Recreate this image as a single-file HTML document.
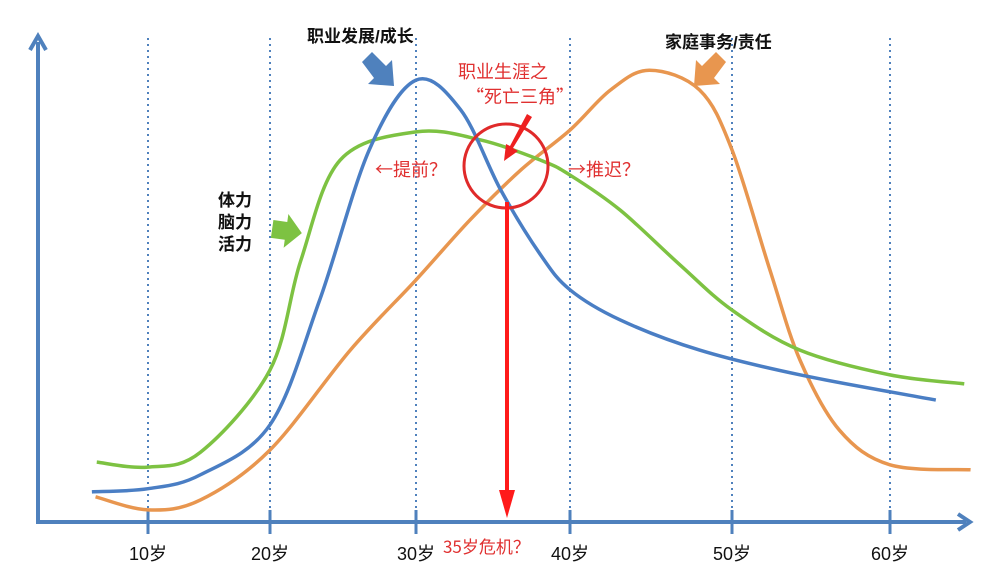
<!DOCTYPE html>
<html><head><meta charset="utf-8"><style>
body{margin:0;background:#fff;}
svg{display:block;font-family:"Liberation Sans","Noto Sans CJK SC",sans-serif;}
.cjk{font-family:"Noto Sans CJK SC","WenQuanYi Zen Hei",sans-serif;}
</style></head><body>
<svg width="989" height="582" viewBox="0 0 989 582" id="chart">
<g id="grid"></g>
<line x1="38" y1="522" x2="38" y2="42" stroke="#4f81bd" stroke-width="4"/>
<path d="M30,50 L38,36 L46,50" fill="none" stroke="#4f81bd" stroke-width="4"/>
<line x1="36" y1="522" x2="966" y2="522" stroke="#4f81bd" stroke-width="4"/>
<path d="M958,514 L970,522 L958,530" fill="none" stroke="#4f81bd" stroke-width="4"/>
<g id="ticks"></g>
<g id="curves"></g>

<text x="307" y="42" font-size="17" font-weight="bold" fill="#111">职业发展/成长</text>
<polygon points="362,62 372,52 386,66 392,60 394,86 368,84 374,78" fill="#4f81bd"/>
<text x="665" y="48" font-size="17" font-weight="bold" fill="#111">家庭事务/责任</text>
<polygon points="726,62 716,52 702,66 696,60 694,86 720,84 714,78" fill="#e8964f"/>
<text font-size="17" font-weight="bold" fill="#111"><tspan x="218" y="206">体力</tspan><tspan x="218" y="228">脑力</tspan><tspan x="218" y="250">活力</tspan></text>
<polygon points="272,222 286,222 286,214 302,231 286,248 286,240 272,240" fill="#7dc242" transform="rotate(8 287 231)"/>

<text x="458" y="78" font-size="18" fill="#e03030" class="cjk">职业生涯之</text>
<text x="466" y="103" font-size="18" fill="#e03030" class="cjk">“死亡三角”</text>
<circle cx="506" cy="166" r="42" fill="none" stroke="#e02a2a" stroke-width="3"/>
<polygon points="527,114 532,117 513,148 518,151 504,161 506,144 510,146" fill="#ee2020"/>
<text x="375" y="176" font-size="18" fill="#e03030" class="cjk">←提前？</text>
<text x="568" y="176" font-size="18" fill="#e03030" class="cjk">→推迟？</text>
<rect x="505" y="202" width="4" height="290" fill="#ff1a1a"/>
<polygon points="499,490 515,490 507,518" fill="#ff1a1a"/>
<text x="443" y="553" font-size="17" fill="#e03030" class="cjk">35岁危机？</text>
</svg>
<script>
const tickAges=[10,20,30,40,50,60];
const tickLabels=["10岁","20岁","30岁","40岁","50岁","60岁"];
const blueAges=[5.4,10,14.3,20,23.4,26.8,30,32.9,35.5,38.1,40,43.1,48.0,54.3,62.9];
const blueVals=[6.7,7.4,10.5,21.6,49.3,82.7,98.2,91.6,73.8,59.3,51.6,44.9,38.2,32.7,27.1];
const greenAges=[5.8,10,14.3,20,22.1,24.8,30,34.2,38.1,40,43.1,46.8,50,54.3,60,64.7];
const greenVals=[13.3,12.2,15.5,33.8,58,80.4,86.7,84.9,80.4,77.1,69.3,57.1,47.1,38.2,32.7,30.7];
const orangeAges=[5.7,10,14.3,20,25.5,30,33.5,36.8,40,42.5,44.9,48,50,52.4,54.3,56.8,60,65.1];
const orangeVals=[5.6,2.7,4.9,16,38.2,53.8,67.1,78.2,87.1,96,100.4,96,82.7,56,36,20.4,12.7,11.6];

const tickPx=[148,270,416,570,732,890];
function xs(a){
  if(a<=tickAges[0]) return tickPx[0]+(a-tickAges[0])*12.2;
  for(let i=0;i<tickAges.length-1;i++){
    if(a<=tickAges[i+1]) return tickPx[i]+(a-tickAges[i])/(tickAges[i+1]-tickAges[i])*(tickPx[i+1]-tickPx[i]);
  }
  return tickPx[5]+(a-60)*15.8;
}
function ys(v){return 522-v*4.5;}
const NS="http://www.w3.org/2000/svg";
const grid=document.getElementById('grid'),ticks=document.getElementById('ticks'),curves=document.getElementById('curves');
tickAges.forEach((a,i)=>{
  const x=xs(a);
  const g=document.createElementNS(NS,'line');
  g.setAttribute('x1',x);g.setAttribute('x2',x);g.setAttribute('y1',38);g.setAttribute('y2',520);
  g.setAttribute('stroke','#4f81bd');g.setAttribute('stroke-width','2');g.setAttribute('stroke-dasharray','2 4');
  
  
  grid.appendChild(g);
  const t=document.createElementNS(NS,'line');
  t.setAttribute('x1',x);t.setAttribute('x2',x);t.setAttribute('y1',510);t.setAttribute('y2',534);
  t.setAttribute('stroke','#4f81bd');t.setAttribute('stroke-width','3');
  
  
  ticks.appendChild(t);
  const l=document.createElementNS(NS,'text');
  l.setAttribute('x',x);l.setAttribute('y',560);l.setAttribute('text-anchor','middle');l.setAttribute('font-size','18');l.setAttribute('fill','#111');
  l.textContent=tickLabels[i];
  
  
  ticks.appendChild(l);
});
function spline(ages,vals){
  const p=ages.map((a,i)=>[xs(a),ys(vals[i])]);
  let d='M'+p[0][0]+','+p[0][1];
  for(let i=0;i<p.length-1;i++){
    const p0=p[i-1]||p[i],p1=p[i],p2=p[i+1],p3=p[i+2]||p2;
    const c1=[p1[0]+(p2[0]-p0[0])/6,p1[1]+(p2[1]-p0[1])/6];
    const c2=[p2[0]-(p3[0]-p1[0])/6,p2[1]-(p3[1]-p1[1])/6];
    d+=' C'+c1+' '+c2+' '+p2;
  }
  return d;
}
[[orangeAges,orangeVals,'#e8964f','family-duty-curve'],[greenAges,greenVals,'#7dc242','energy-curve'],[blueAges,blueVals,'#4a7ec4','career-growth-curve']].forEach(s=>{
  const path=document.createElementNS(NS,'path');
  path.setAttribute('d',spline(s[0],s[1]));
  path.setAttribute('fill','none');path.setAttribute('stroke',s[2]);path.setAttribute('stroke-width','3.5');
  
  
  curves.appendChild(path);
});
</script>
</body></html>
